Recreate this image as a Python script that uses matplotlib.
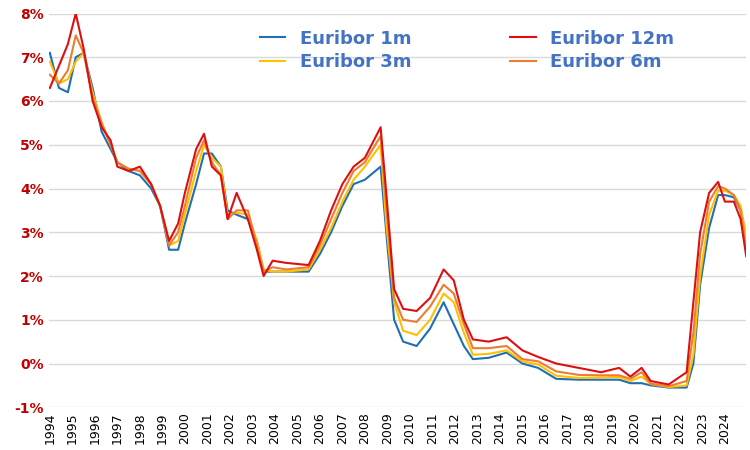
import matplotlib.pyplot as plt
import numpy as np
from matplotlib.ticker import FuncFormatter

dates = [1994.0, 1994.4, 1994.8, 1995.15, 1995.5, 1995.9, 1996.3, 1996.7, 1997.0, 1997.5,
         1998.0, 1998.5, 1998.9, 1999.3, 1999.7, 2000.0, 2000.5, 2000.85, 2001.2, 2001.6,
         2001.9, 2002.3, 2002.8, 2003.2, 2003.5, 2003.9, 2004.5, 2005.5, 2006.0, 2006.5,
         2007.0, 2007.5, 2008.0, 2008.7, 2008.95, 2009.3, 2009.7, 2010.3, 2010.9, 2011.5,
         2011.95, 2012.4, 2012.8, 2013.5, 2014.3, 2015.0, 2015.7, 2016.5, 2017.5, 2018.5,
         2019.3, 2019.8, 2020.3, 2020.7, 2021.5, 2022.3, 2022.6, 2022.9, 2023.3, 2023.7,
         2024.0, 2024.4, 2024.7, 2024.95]

eur_1m = [7.1, 6.3, 6.2, 7.0, 7.1, 6.3, 5.3, 4.9, 4.6, 4.4, 4.3, 4.0, 3.6, 2.6, 2.6, 3.2,
          4.1, 4.8, 4.8, 4.5, 3.5, 3.4, 3.3, 2.8, 2.1, 2.1, 2.1, 2.1, 2.5, 3.0, 3.6, 4.1,
          4.2, 4.5, 3.0, 1.0, 0.5, 0.4, 0.8, 1.4, 0.9, 0.4, 0.1, 0.13, 0.25, 0.0, -0.1,
          -0.35, -0.37, -0.37, -0.37, -0.45, -0.45, -0.5, -0.55, -0.55, 0.0, 1.8, 3.1,
          3.85, 3.85, 3.8, 3.5, 2.9]
eur_3m = [6.9, 6.4, 6.5, 6.9, 7.1, 6.2, 5.5, 5.0, 4.6, 4.45, 4.4, 4.1, 3.6, 2.7, 2.8, 3.4,
          4.4, 5.0, 4.7, 4.5, 3.4, 3.45, 3.4, 2.8, 2.15, 2.1, 2.1, 2.15, 2.6, 3.1, 3.7, 4.2,
          4.5, 5.0, 3.2, 1.4, 0.75, 0.65, 1.0, 1.6, 1.4, 0.7, 0.2, 0.22, 0.3, 0.05, -0.02,
          -0.28, -0.33, -0.32, -0.31, -0.4, -0.3, -0.47, -0.54, -0.5, 0.2, 2.0, 3.4,
          3.95, 3.95, 3.85, 3.6, 2.9]
eur_6m = [6.6, 6.4, 6.7, 7.5, 7.1, 6.1, 5.5, 5.0, 4.6, 4.45, 4.4, 4.1, 3.6, 2.7, 3.0, 3.6,
          4.7, 5.1, 4.6, 4.3, 3.3, 3.5, 3.5, 2.7, 2.1, 2.2, 2.15, 2.2, 2.7, 3.3, 3.9, 4.4,
          4.6, 5.2, 3.6, 1.5, 1.0, 0.95, 1.3, 1.8, 1.6, 0.9, 0.35, 0.35, 0.4, 0.1, 0.05,
          -0.18, -0.26, -0.27, -0.27, -0.35, -0.2, -0.46, -0.52, -0.4, 0.7, 2.5, 3.7,
          4.05, 4.0, 3.85, 3.5, 2.6]
eur_12m = [6.3, 6.8, 7.3, 8.0, 7.2, 6.0, 5.4, 5.1, 4.5, 4.4, 4.5, 4.1, 3.6, 2.8, 3.2, 3.9,
           4.9, 5.25, 4.5, 4.3, 3.3, 3.9, 3.3, 2.6, 2.0, 2.35, 2.3, 2.25, 2.8, 3.5, 4.1, 4.5,
           4.7, 5.4, 3.9, 1.7, 1.25, 1.2, 1.5, 2.15, 1.9, 1.0, 0.55, 0.5, 0.6, 0.3, 0.15,
           0.0, -0.1, -0.2, -0.1, -0.3, -0.1, -0.4, -0.48, -0.2, 1.4, 3.0, 3.9,
           4.15, 3.7, 3.7, 3.3, 2.45]

fig = plt.figure(figsize=(7.5, 4.5), dpi=100)
ax = fig.add_axes([0.065, 0.095, 0.93, 0.875])

l1, = ax.plot(dates, eur_1m, color="#1F6FB4", lw=1.5, label="Euribor 1m")
l3, = ax.plot(dates, eur_3m, color="#FFC000", lw=1.5, label="Euribor 3m")
l6, = ax.plot(dates, eur_6m, color="#ED7D31", lw=1.5, label="Euribor 6m")
l12, = ax.plot(dates, eur_12m, color="#DC1010", lw=1.5, label="Euribor 12m")

ax.set_ylim(-1, 8)
ax.set_yticks(range(-1, 9))
ax.yaxis.set_major_formatter(FuncFormatter(lambda v, p: f"{int(v)}%"))
ax.set_xlim(1993.95, 2024.95)
ax.set_xticks(range(1994, 2025))
ax.tick_params(axis="x", rotation=90, labelsize=9, length=0)
ax.tick_params(axis="y", labelsize=10, length=0, labelcolor="#C00000")
for t in ax.get_yticklabels():
    t.set_fontweight("bold")
ax.grid(axis="y", color="#D9D9D9", lw=1)
ax.set_axisbelow(True)
for s in ax.spines.values():
    s.set_visible(False)

leg = ax.legend(handles=[l1, l3, l12, l6], ncol=2, loc="upper right",
                bbox_to_anchor=(0.92, 1.0), frameon=False, handlelength=1.4,
                columnspacing=5.5, labelspacing=0.3,
                prop={"weight": "bold", "size": 13})
for t in leg.get_texts():
    t.set_color("#4472C4")

fig.savefig("out.png")
